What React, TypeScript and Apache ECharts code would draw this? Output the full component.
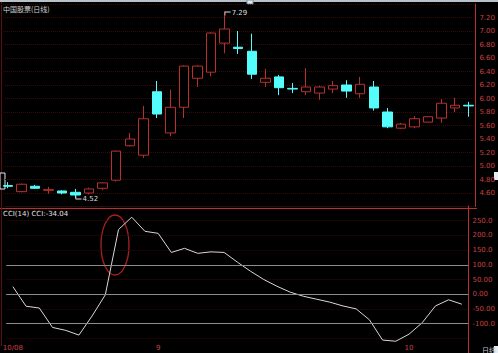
import React, { useEffect, useRef } from "react";
import * as echarts from "echarts";

const dates = [
  "2010-08-17", "2010-08-18", "2010-08-19", "2010-08-20", "2010-08-23", "2010-08-24",
  "2010-08-25", "2010-08-26", "2010-08-27", "2010-08-30", "2010-08-31",
  "2010-09-01", "2010-09-02", "2010-09-03", "2010-09-06", "2010-09-07", "2010-09-08",
  "2010-09-09", "2010-09-10", "2010-09-13", "2010-09-14", "2010-09-15", "2010-09-16",
  "2010-09-17", "2010-09-20", "2010-09-21", "2010-09-27", "2010-09-28", "2010-09-29",
  "2010-09-30", "2010-10-08", "2010-10-11", "2010-10-12", "2010-10-13", "2010-10-14",
];
const opens = [4.71, 4.62, 4.70, 4.64, 4.63, 4.61, 4.60, 4.67, 4.79, 5.30, 5.16, 6.10, 5.49, 5.87, 6.30, 6.39, 6.82, 6.76, 6.70, 6.24, 6.32, 6.15, 6.10, 6.08, 6.14, 6.20, 6.07, 6.17, 5.80, 5.56, 5.58, 5.65, 5.71, 5.86, 5.90];
const closes = [4.70, 4.73, 4.67, 4.65, 4.60, 4.57, 4.66, 4.75, 5.22, 5.40, 5.70, 5.77, 5.87, 6.48, 6.48, 6.97, 7.03, 6.74, 6.36, 6.30, 6.16, 6.14, 6.17, 6.17, 6.19, 6.11, 6.21, 5.86, 5.58, 5.62, 5.70, 5.73, 5.93, 5.90, 5.89];
const lows = [4.67, 4.61, 4.66, 4.59, 4.58, 4.52, 4.58, 4.64, 4.77, 5.29, 5.12, 5.71, 5.44, 5.71, 6.17, 6.33, 6.67, 6.66, 6.29, 6.17, 6.05, 6.08, 6.05, 5.98, 6.08, 6.01, 6.01, 5.82, 5.56, 5.55, 5.56, 5.65, 5.64, 5.80, 5.73];
const highs = [4.76, 4.74, 4.72, 4.69, 4.64, 4.66, 4.68, 4.76, 5.23, 5.49, 5.89, 6.26, 6.13, 6.49, 6.49, 6.98, 7.29, 7.00, 6.96, 6.44, 6.35, 6.23, 6.45, 6.19, 6.26, 6.27, 6.32, 6.26, 5.86, 5.64, 5.74, 5.74, 5.99, 6.01, 5.95];
const cci = [25.6, -41, -47, -113, -123, -139, -74, -2, 220, 262, 214, 207, 142, 156, 139, 144, 142, 109, 78, 50, 27, 7, -7, -17, -27, -40, -50, -87, -156, -160, -136, -97, -40, -19, -34.04];
const cciLevels = [100, 0, -100];
const monthTickIndex = [0, 11, 30];
const monthTickLabels = ["10/08", "9", "10"];
const highMark = { index: 16, value: 7.29 };
const lowMark = { index: 5, value: 4.52 };
const title = "中国股票(日线)";
const cciTitle = "CCI(14) CCI:-34.04";

const RED = "#b8302e";
const CYAN = "#54fcfc";
const LABEL_RED = "#c84040";
const FONT = "DejaVu Sans";

function fmtCci(v: number): string {
  if (v < -100 || v > 250) return "";
  const a = Math.abs(v);
  if (a >= 100) return v.toFixed(1);
  return v.toFixed(2);
}

export default function App() {
  const ref = useRef<HTMLDivElement>(null);
  useEffect(() => {
    if (!ref.current) return;
    const chart = echarts.init(ref.current, undefined, { renderer: "svg" });
    const kData = dates.map((_, i) => [opens[i], closes[i], lows[i], highs[i]]);
    chart.setOption({
      animation: false,
      backgroundColor: "#000",
      textStyle: { fontFamily: FONT },
      grid: [
        { left: 1, width: 476, top: 4, height: 202.5 },
        { left: 1, width: 476, top: 206, height: 150 },
      ],
      xAxis: [
        {
          type: "category", gridIndex: 0, data: dates, boundaryGap: true,
          axisLine: { show: false }, axisTick: { show: false }, axisLabel: { show: false }, splitLine: { show: false },
        },
        {
          type: "category", gridIndex: 1, data: dates, boundaryGap: true, offset: -10,
          axisLine: { show: true, lineStyle: { color: RED, width: 1 } },
          axisTick: { show: false },
          axisLabel: {
            show: true, interval: 0, margin: 1, fontSize: 7, color: LABEL_RED, fontFamily: FONT,
            formatter: (_v: string, idx: number) => {
              const k = monthTickIndex.indexOf(idx);
              return k >= 0 ? monthTickLabels[k] : "";
            },
          },
          splitLine: { show: false },
        },
      ],
      yAxis: [
        {
          type: "value", gridIndex: 0, position: "right", min: 4.4, max: 7.4, interval: 0.2,
          axisLine: { show: true, lineStyle: { color: RED } },
          axisTick: { show: false },
          axisLabel: {
            show: true, showMinLabel: false, showMaxLabel: false, fontSize: 7, color: LABEL_RED, margin: 4,
            fontFamily: FONT, formatter: (v: number) => v.toFixed(2),
          },
          splitLine: { show: true, lineStyle: { color: "#3a0808", type: "dotted", width: 1 } },
        },
        {
          type: "value", gridIndex: 1, position: "right", min: -200, max: 300, interval: 50,
          axisLine: { show: true, lineStyle: { color: RED } },
          axisTick: { show: false },
          axisLabel: {
            show: true, showMinLabel: false, showMaxLabel: false, fontSize: 7, color: LABEL_RED, margin: 4,
            fontFamily: FONT, formatter: (v: number) => fmtCci(v),
          },
          splitLine: { show: true, lineStyle: { color: "#3a0808", type: "dotted", width: 1 } },
        },
      ],
      series: [
        {
          type: "candlestick", xAxisIndex: 0, yAxisIndex: 0, data: kData, barWidth: 10,
          itemStyle: { color: "#000", color0: CYAN, borderColor: RED, borderColor0: CYAN, borderWidth: 1 },
          markPoint: {
            silent: true,
            data: [
              {
                coord: [highMark.index, highMark.value],
                symbol: "path://M0,0H8V1H1V4H0Z", symbolSize: [6, 4], symbolOffset: [3, 2],
                itemStyle: { color: "#dddddd" },
                label: { show: true, position: "right", distance: 1, formatter: highMark.value.toFixed(2), color: "#dddddd", fontSize: 7, fontFamily: FONT },
              },
              {
                coord: [lowMark.index, lowMark.value],
                symbol: "path://M0,0H1V3H8V4H0Z", symbolSize: [6, 4], symbolOffset: [3, -1],
                itemStyle: { color: "#dddddd" },
                label: { show: true, position: "right", distance: 1, formatter: lowMark.value.toFixed(2), color: "#dddddd", fontSize: 7, fontFamily: FONT, offset: [0, 2] },
              },
            ],
          },
        },
        {
          type: "line", xAxisIndex: 1, yAxisIndex: 1, data: cci, symbol: "none", clip: false,
          lineStyle: { color: "#d8d8d8", width: 1 },
          markLine: {
            silent: true, symbol: ["none", "none"], label: { show: false },
            lineStyle: { color: "#8c8c8c", type: "solid", width: 1 },
            data: cciLevels.map((v) => ({ yAxis: v })),
          },
        },
      ],
      graphic: [
        { type: "line", shape: { x1: 0, y1: 1, x2: 498, y2: 1 }, style: { stroke: "#b8c0c8", lineWidth: 2 }, silent: true },
        { type: "line", shape: { x1: 0, y1: 208.5, x2: 477, y2: 208.5 }, style: { stroke: RED, lineWidth: 1 }, silent: true },
        { type: "line", shape: { x1: 1.5, y1: 2, x2: 1.5, y2: 346 }, style: { stroke: "#5a1010", lineWidth: 1 }, silent: true },
        { type: "rect", shape: { x: 247, y: 0, width: 6, height: 4 }, style: { fill: "#dfe6ee", stroke: "#8090a0", lineWidth: 1 }, silent: true },
        { type: "rect", shape: { x: 0, y: 173, width: 5, height: 16 }, style: { fill: "#000", stroke: "#e0e6ee", lineWidth: 1 }, silent: true },
        { type: "rect", shape: { x: 494, y: 172, width: 4, height: 8 }, style: { fill: "#e8eef4" }, silent: true },
        { type: "rect", shape: { x: 494, y: 346, width: 4, height: 7 }, style: { fill: "#e8eef4" }, silent: true },
        { type: "text", left: 3, top: 5, style: { text: title, fill: "#d0d0d0", fontSize: 7, fontFamily: "Noto Sans CJK SC" }, silent: true },
        { type: "text", left: 3, top: 210, style: { text: cciTitle, fill: "#e0e0e0", fontSize: 7, fontFamily: FONT }, silent: true },
        { type: "text", left: 482, top: 346, style: { text: "日线", fill: "#c8c8c8", fontSize: 7, fontFamily: "Noto Sans CJK SC" }, silent: true },
        { type: "ellipse", shape: { cx: 115, cy: 245, rx: 14, ry: 30 }, style: { fill: "none", stroke: "#a82020", lineWidth: 1.3 }, silent: true },
      ],
    });
    return () => chart.dispose();
  }, []);
  return <div ref={ref} style={{ position: "fixed", left: 0, top: 0, width: 498, height: 353 }} />;
}
